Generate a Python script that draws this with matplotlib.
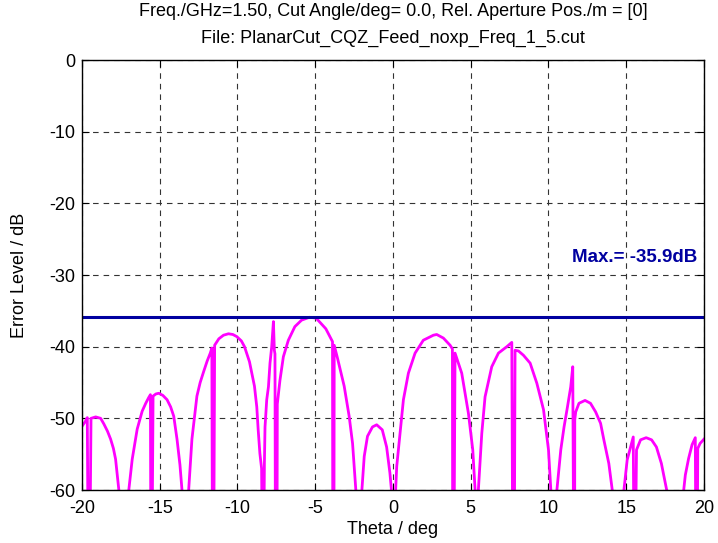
import matplotlib
matplotlib.use('Agg')
import matplotlib.pyplot as plt
import numpy as np

plt.rcParams['font.family'] = ['Liberation Sans', 'DejaVu Sans']
plt.rcParams['axes.unicode_minus'] = False

# curva de error, valores < -60 quedan recortados
theta = [-20.00, -19.80, -19.66, -19.60, -19.50, -19.42, -19.12, -18.80, -18.59, -18.36,
         -18.16, -17.98, -17.84, -17.63, -17.30, -16.99, -16.77, -16.45, -16.13, -15.90,
         -15.71, -15.60, -15.57, -15.50, -15.43, -15.25, -15.06, -14.80, -14.53, -14.30,
         -14.10, -13.89, -13.70, -13.57, -13.35, -13.14, -12.93, -12.61, -12.40, -12.18,
         -11.95, -11.75, -11.65, -11.61, -11.53, -11.47, -11.20, -10.90, -10.58, -10.30,
         -10.04, -9.75, -9.55, -9.23, -8.91, -8.76, -8.67, -8.56, -8.45, -8.40,
         -8.32, -8.27, -8.23, -8.12, -8.01, -7.91, -7.80, -7.69, -7.63, -7.59,
         -7.56, -7.46, -7.44, -7.27, -7.05, -6.73, -6.31, -5.88, -5.38, -4.95,
         -4.32, -3.89, -3.87, -3.80, -3.78, -3.57, -3.14, -2.82, -2.60, -2.39,
         -2.20, -2.00, -1.85, -1.64, -1.32, -1.05, -0.69, -0.41, -0.20, -0.10,
         0.05, 0.17, 0.24, 0.45, 0.67, 0.99, 1.42, 1.95, 2.60, 2.81,
         3.24, 3.67, 3.82, 3.84, 3.92, 3.99, 4.42, 4.85, 5.13, 5.28,
         5.38, 5.49, 5.71, 5.92, 6.35, 6.78, 7.32, 7.64, 7.70, 7.80,
         7.85, 8.07, 8.39, 8.82, 9.25, 9.68, 10.00, 10.15, 10.35, 10.54,
         10.79, 11.00, 11.22, 11.43, 11.56, 11.62, 11.68, 11.69, 11.75, 11.96,
         12.35, 12.70, 13.03, 13.35, 13.56, 13.88, 14.10, 14.50, 14.85, 15.06,
         15.28, 15.45, 15.50, 15.58, 15.66, 15.92, 16.28, 16.63, 16.94, 17.26,
         17.60, 18.20, 18.69, 18.80, 19.01, 19.23, 19.44, 19.48, 19.56, 19.60,
         19.75, 20.00]
level = [-51.1, -50.5, -49.9, -70, -70, -50.0, -49.8, -50.0, -50.8, -51.8,
         -52.9, -54.2, -55.7, -60.0, -70, -60.0, -55.7, -51.5, -49.0, -47.9,
         -47.1, -46.7, -70, -70, -46.9, -46.6, -46.5, -46.8, -47.4, -48.4,
         -49.7, -52.9, -56.5, -60.0, -70, -60.0, -52.9, -46.9, -45.0, -43.5,
         -42.0, -40.9, -40.2, -70, -70, -39.8, -38.9, -38.4, -38.2, -38.3,
         -38.6, -39.2, -40.0, -42.1, -45.5, -48.4, -51.6, -54.9, -57.0, -70,
         -70, -56.3, -51.2, -47.4, -45.6, -42.3, -40.0, -36.5, -40.5, -41.0,
         -70, -70, -48.0, -44.7, -41.4, -39.1, -37.2, -36.3, -35.9, -36.0,
         -37.5, -39.3, -70, -70, -39.8, -41.6, -45.5, -49.7, -53.5, -60.0,
         -70, -60.0, -55.3, -52.5, -51.2, -50.9, -51.6, -54.0, -57.6, -60.0,
         -70, -60.0, -56.7, -52.1, -47.4, -43.7, -40.9, -39.1, -38.4, -38.3,
         -38.8, -39.8, -40.3, -70, -70, -40.9, -43.7, -49.3, -54.4, -60.0,
         -70, -60.0, -52.1, -47.0, -42.8, -40.9, -40.0, -39.4, -70, -70,
         -40.5, -40.6, -41.2, -42.3, -45.1, -48.8, -54.4, -60.0, -70, -60.0,
         -54.4, -51.2, -48.4, -45.6, -42.8, -70, -70, -50.2, -49.1, -47.9,
         -47.5, -47.9, -49.1, -50.7, -53.0, -56.3, -60.0, -70, -60.0, -55.8,
         -54.0, -52.6, -70, -70, -54.4, -53.0, -52.7, -53.0, -54.0, -56.3,
         -60.0, -70, -60.0, -57.9, -55.6, -53.7, -52.7, -70, -70, -54.2,
         -53.5, -52.9]

max_level = -35.9
titulo_1 = 'Freq./GHz=1.50, Cut Angle/deg= 0.0, Rel. Aperture Pos./m = [0]'
titulo_2 = 'File: PlanarCut_CQZ_Feed_noxp_Freq_1_5.cut'

fig = plt.figure(figsize=(7.18, 5.43), dpi=100)
ax = fig.add_axes([0.1142, 0.0976, 0.8663, 0.7919])

ax.plot(theta, level, color='#FF00FF', lw=2.0)
ax.axhline(max_level, color='#0000A0', lw=2.2)
ax.text(19.55, -27.5, 'Max.= %.1fdB' % max_level, color='#0000A0',
        fontsize=13.5, fontweight='bold', ha='right', va='center')

ax.set_xlim(-20, 20)
ax.set_ylim(-60, 0)
ax.set_xticks(np.arange(-20, 21, 5))
ax.set_yticks(np.arange(-60, 1, 10))
ax.grid(True, color='0.2', linestyle=(0, (5, 4.5)), lw=0.8)
ax.tick_params(direction='in', top=True, right=True, length=5, labelsize=13)
ax.tick_params(axis='x', pad=7)
ax.tick_params(axis='y', pad=5)
for s in ax.spines.values():
    s.set_linewidth(1.0)

ax.set_xlabel('Theta / deg', fontsize=13)
ax.set_ylabel('Error Level / dB', fontsize=13)
ax.xaxis.set_label_coords(0.5, -0.072)
ax.yaxis.set_label_coords(-0.087, 0.5)

# título en dos líneas, la primera queda un poco recortada arriba como en el original
fig.text(0.5474, 1 - 16 / 543, titulo_1, fontsize=13, ha='center', va='baseline')
fig.text(0.5474, 1 - 43 / 543, titulo_2, fontsize=13, ha='center', va='baseline')

fig.savefig('out.png', dpi=100)
